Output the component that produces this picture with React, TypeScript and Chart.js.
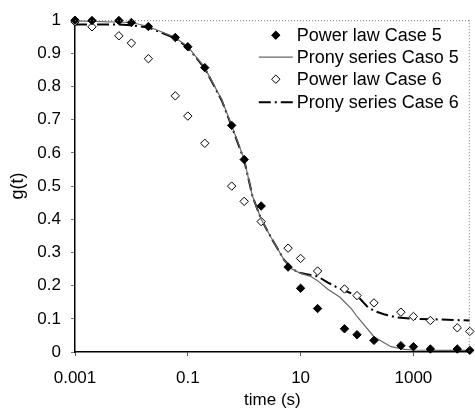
import { useEffect, useRef } from "react";
import { Chart, registerables } from "chart.js";

Chart.register(...registerables);

// ---- data ----
const powerLaw5T = [0.001, 0.002, 0.006, 0.01, 0.02, 0.06, 0.1, 0.2, 0.6, 1, 2, 6, 10, 20, 60, 100, 200, 600, 1000, 2000, 6000, 10000];
const powerLaw5G = [1.0, 0.999, 0.999, 0.993, 0.981, 0.948, 0.92, 0.857, 0.683, 0.58, 0.44, 0.256, 0.192, 0.131, 0.07, 0.052, 0.035, 0.019, 0.016, 0.009, 0.009, 0.005];

const prony5T = [0.001, 0.01, 0.02, 0.06, 0.1, 0.2, 0.4, 0.6, 1, 1.4, 2, 3, 5, 7, 10, 15, 20, 30, 50, 80, 100, 200, 400, 700, 1000, 3000, 10000];
const prony5G = [0.998, 0.993, 0.981, 0.948, 0.92, 0.857, 0.76, 0.683, 0.58, 0.47, 0.4, 0.345, 0.28, 0.25, 0.237, 0.228, 0.215, 0.19, 0.165, 0.13, 0.107, 0.046, 0.016, 0.008, 0.006, 0.005, 0.005];

const powerLaw6T = [0.001, 0.002, 0.006, 0.01, 0.02, 0.06, 0.1, 0.2, 0.6, 1, 2, 6, 10, 20, 60, 100, 200, 600, 1000, 2000, 6000, 10000];
const powerLaw6G = [0.995, 0.98, 0.953, 0.931, 0.884, 0.772, 0.711, 0.629, 0.5, 0.454, 0.393, 0.313, 0.282, 0.244, 0.19, 0.17, 0.148, 0.12, 0.107, 0.095, 0.073, 0.062];

const prony6T = [0.001, 0.006, 0.01, 0.02, 0.06, 0.1, 0.2, 0.4, 0.6, 1, 1.4, 2, 3, 5, 7, 10, 20, 30, 50, 100, 150, 200, 300, 500, 1000, 3000, 10000];
const prony6G = [0.987, 0.987, 0.985, 0.978, 0.946, 0.918, 0.855, 0.758, 0.68, 0.578, 0.47, 0.4, 0.345, 0.28, 0.25, 0.238, 0.228, 0.21, 0.19, 0.17, 0.138, 0.124, 0.114, 0.104, 0.1, 0.098, 0.095];

const seriesLabels = ["Power law Case 5", "Prony series Caso 5", "Power law Case 6", "Prony series Case 6"];

const xTickValues = [0.001, 0.1, 10, 1000];
const xTickLabels = ["0.001", "0.1", "10", "1000"];
const yTickValues = [0, 0.1, 0.2, 0.3, 0.4, 0.5, 0.6, 0.7, 0.8, 0.9, 1];
const yTickLabels = ["0", "0.1", "0.2", "0.3", "0.4", "0.5", "0.6", "0.7", "0.8", "0.9", "1"];

const xTitle = "time (s)";
const yTitle = "g(t)";

const FONT = '"Liberation Sans", Arial, Helvetica, sans-serif';

function pts(t: number[], g: number[]) {
  return t.map((v, i) => ({ x: v, y: g[i] }));
}

function diamond(ctx: CanvasRenderingContext2D, x: number, y: number, r: number) {
  ctx.beginPath();
  ctx.moveTo(x, y - r);
  ctx.lineTo(x + r, y);
  ctx.lineTo(x, y + r);
  ctx.lineTo(x - r, y);
  ctx.closePath();
}

const frameAndLegend = {
  id: "frameAndLegend",
  afterDraw(chart: any) {
    const { ctx, chartArea } = chart;
    const { left, right, top, bottom } = chartArea;
    ctx.save();
    // dotted top / right frame
    ctx.strokeStyle = "#777";
    ctx.lineWidth = 1;
    ctx.setLineDash([1, 2]);
    ctx.beginPath();
    ctx.moveTo(left, top + 0.5);
    ctx.lineTo(right, top + 0.5);
    ctx.moveTo(right - 0.5, top);
    ctx.lineTo(right - 0.5, bottom);
    ctx.stroke();
    ctx.setLineDash([]);

    // legend inside the plot, top right
    const lx = right - 211;
    const rows = [15, 37, 59, 82];
    ctx.font = "18px " + FONT;
    ctx.textBaseline = "middle";
    ctx.textAlign = "left";
    chart.data.datasets.forEach((ds: any, i: number) => {
      const y = top + rows[i];
      if (ds.showLine) {
        ctx.strokeStyle = ds.borderColor;
        ctx.lineWidth = ds.borderWidth;
        ctx.setLineDash(ds.borderDash || []);
        ctx.beginPath();
        ctx.moveTo(lx, y);
        ctx.lineTo(lx + 34, y);
        ctx.stroke();
        ctx.setLineDash([]);
      } else {
        diamond(ctx, lx + 17, y, ds.pointRadius);
        ctx.fillStyle = ds.pointBackgroundColor;
        ctx.fill();
        ctx.strokeStyle = ds.pointBorderColor;
        ctx.lineWidth = ds.pointBorderWidth;
        ctx.stroke();
      }
      ctx.fillStyle = "#000";
      ctx.fillText(ds.label, lx + 38, y + 1);
    });
    ctx.restore();
  },
};

export default function App() {
  const ref = useRef<HTMLCanvasElement | null>(null);
  useEffect(() => {
    if (!ref.current) return;
    const tickFont = { family: FONT, size: 17 };
    const chart = new Chart(ref.current, {
      type: "scatter",
      data: {
        datasets: [
          {
            label: seriesLabels[0],
            data: pts(powerLaw5T, powerLaw5G),
            showLine: false,
            pointStyle: "rectRot",
            pointRadius: 4.2,
            pointBackgroundColor: "#000",
            pointBorderColor: "#000",
            pointBorderWidth: 1,
            clip: false,
          } as any,
          {
            label: seriesLabels[1],
            data: pts(prony5T, prony5G),
            showLine: true,
            borderColor: "#666",
            borderWidth: 1.2,
            pointRadius: 0,
            tension: 0,
            clip: false,
          },
          {
            label: seriesLabels[2],
            data: pts(powerLaw6T, powerLaw6G),
            showLine: false,
            pointStyle: "rectRot",
            pointRadius: 4.2,
            pointBackgroundColor: "#fff",
            pointBorderColor: "#000",
            pointBorderWidth: 1,
            clip: false,
          },
          {
            label: seriesLabels[3],
            data: pts(prony6T, prony6G),
            showLine: true,
            borderColor: "#000",
            borderWidth: 2,
            borderDash: [12, 4, 2, 4],
            pointRadius: 0,
            tension: 0,
            clip: false,
          },
        ],
      },
      options: {
        responsive: false,
        animation: false,
        layout: { padding: { top: 15, right: 2, left: 0, bottom: 0 } },
        plugins: {
          legend: { display: false },
          tooltip: { enabled: false },
        },
        scales: {
          x: {
            type: "logarithmic",
            min: 0.001,
            max: 10000,
            afterBuildTicks: (s: any) => {
              s.ticks = xTickValues.map((v) => ({ value: v }));
            },
            afterFit: (s: any) => {
              s.height = 62;
            },
            ticks: {
              autoSkip: false,
              maxRotation: 0,
              color: "#000",
              font: tickFont,
              padding: 12,
              callback: (v: any) => {
                const i = xTickValues.indexOf(Number(v));
                return i >= 0 ? xTickLabels[i] : "";
              },
            },
            grid: { drawOnChartArea: false, tickLength: 4, color: "#555" },
            border: { color: "#000", width: 1.5 },
            title: {
              display: true,
              text: xTitle,
              color: "#000",
              font: tickFont,
              padding: { top: 0, bottom: 3 },
            },
          },
          y: {
            type: "linear",
            min: 0,
            max: 1,
            afterBuildTicks: (s: any) => {
              s.ticks = yTickValues.map((v) => ({ value: v }));
            },
            afterFit: (s: any) => {
              s.width = 75;
            },
            ticks: {
              autoSkip: false,
              color: "#000",
              font: tickFont,
              padding: 10,
              callback: (v: any) => {
                const i = yTickValues.findIndex((t) => Math.abs(t - Number(v)) < 1e-9);
                return i >= 0 ? yTickLabels[i] : "";
              },
            },
            grid: { drawOnChartArea: false, tickLength: 4, color: "#777" },
            border: { color: "#000", width: 1.5 },
            title: {
              display: true,
              text: yTitle,
              color: "#000",
              font: { family: FONT, size: 18 },
              padding: { top: 7, bottom: 0 },
            },
          },
        },
      },
      plugins: [frameAndLegend],
    });
    return () => chart.destroy();
  }, []);
  return (
    <div style={{ position: "absolute", left: 0, top: 0, width: 475, height: 414, background: "#fff" }}>
      <canvas ref={ref} width={475} height={414} style={{ display: "block" }} />
    </div>
  );
}
